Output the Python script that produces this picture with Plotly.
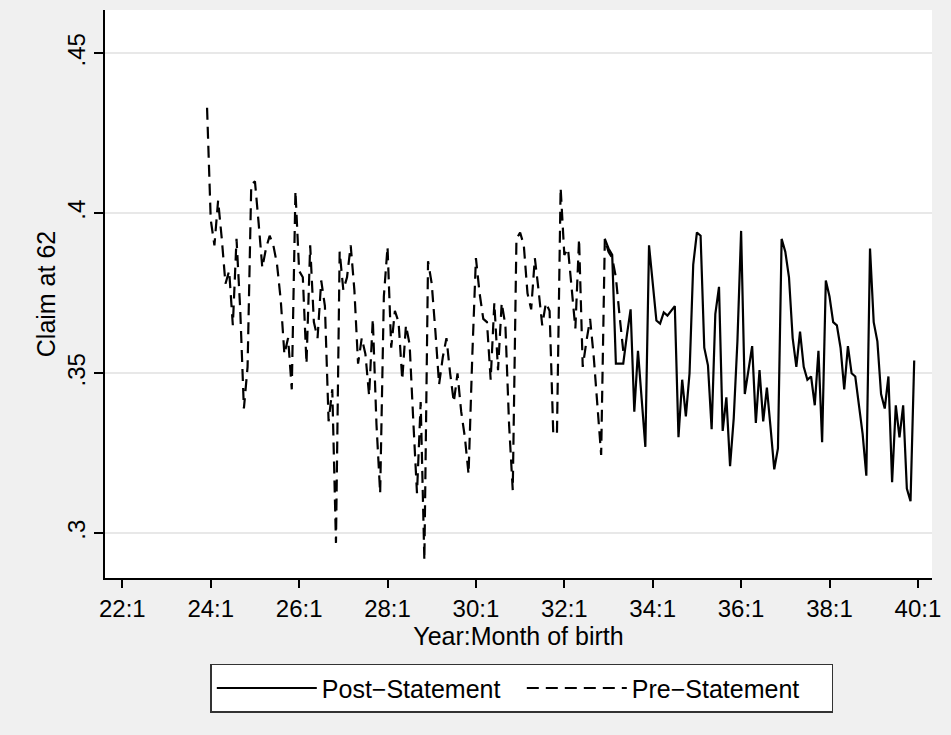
import plotly.graph_objects as go

# x = month index, 0 = 1922:1
tick_months = [0, 24, 48, 72, 96, 120, 144, 168, 192, 216]
tick_labels = ["22:1", "24:1", "26:1", "28:1", "30:1", "32:1", "34:1", "36:1", "38:1", "40:1"]
y_ticks = [0.30, 0.35, 0.40, 0.45]
y_tick_labels = [".3", ".35", ".4", ".45"]

# Pre-Statement cohorts: 1923:12 ... 1933:5
pre_start = 23
pre_values = [
    .433, .398, .390, .404, .392, .378, .382, .365, .392, .370,
    .339, .352, .409, .410, .397, .383, .389, .393, .390, .384,
    .373, .356, .361, .345, .407, .382, .380, .353, .390, .366,
    .361, .379, .371, .335, .345, .297, .388, .376, .380, .390,
    .376, .353, .361, .356, .343, .367, .334, .3125, .374, .3895,
    .358, .3695, .366, .348, .365, .359, .335, .3125, .341, .2915,
    .385, .378, .363, .3465, .355, .361, .350, .341, .350, .338,
    .330, .3185, .355, .386, .375, .367, .366, .348, .372, .351,
    .372, .365, .334, .3135, .392, .394, .390, .375, .370, .386,
    .376, .365, .372, .3695, .331, .331, .408, .387, .389, .376,
    .364, .392, .352, .360, .367, .355, .340, .3245, .392, .388,
    .386, .380, .368, .357,
]

# Post-Statement cohorts: 1932:12 ... 1939:12
post_start = 131
post_values = [
    .392, .389, .387, .353, .353, .353, .362, .370, .338, .357,
    .342, .327, .390, .378, .3665, .3655, .369, .368, .3695, .371,
    .330, .348, .3365, .350, .384, .394, .393, .358, .3525, .3325,
    .3685, .377, .332, .3425, .321, .336, .360, .3945, .3435, .351,
    .3585, .3345, .351, .335, .3455, .333, .320, .3265, .392, .388,
    .380, .361, .352, .363, .352, .348, .349, .340, .357, .3285,
    .379, .374, .366, .365, .358, .345, .3585, .350, .349, .340,
    .331, .318, .389, .366, .360, .3435, .339, .349, .316, .340,
    .330, .340, .314, .310, .354,
]

pre_x = list(range(pre_start, pre_start + len(pre_values)))
post_x = list(range(post_start, post_start + len(post_values)))

fig = go.Figure()
fig.add_trace(go.Scatter(x=post_x, y=post_values, mode="lines", name="Post\u2212Statement",
                         line=dict(color="black", width=2.2)))
fig.add_trace(go.Scatter(x=pre_x, y=pre_values, mode="lines", name="Pre\u2212Statement",
                         line=dict(color="black", width=2.2, dash="12px,7px")))

font = dict(family="Liberation Sans, Arial, sans-serif", color="black")
fig.update_layout(
    width=951, height=735,
    paper_bgcolor="#F0F0F0", plot_bgcolor="white",
    margin=dict(l=105, r=17, t=10, b=157, pad=0),
    font=dict(size=24, **font),
    showlegend=True,
    legend=dict(orientation="h", x=0.504, xanchor="center", y=-0.151, yanchor="top",
                bordercolor="#333333", borderwidth=1.5, bgcolor="white",
                font=dict(size=25, **font), itemwidth=100, entrywidth=195,
                tracegroupgap=0),
)
fig.update_xaxes(
    range=[-4.71, 219.83], tickvals=tick_months, ticktext=tick_labels,
    showline=True, linecolor="black", linewidth=1.5, ticks="outside", ticklen=8,
    tickcolor="black", tickwidth=1.5, showgrid=False, zeroline=False,
    title=dict(text="Year:Month of birth", font=dict(size=25, **font), standoff=0),
    tickfont=dict(size=24, **font),
)
fig.update_yaxes(
    range=[0.28603, 0.46353], tickvals=y_ticks, ticktext=y_tick_labels,
    tickangle=-90, showline=True, linecolor="black", linewidth=1.5, ticks="outside", ticklen=9,
    tickcolor="black", tickwidth=1.5, showgrid=True, gridcolor="#E8E8E8", gridwidth=2,
    zeroline=False,
    title=dict(text="Claim at 62", font=dict(size=25, **font), standoff=0),
    tickfont=dict(size=24, **font),
)
fig.write_html("out.html", config={"displayModeBar": False},
               post_script="document.body.style.margin='0px';")
